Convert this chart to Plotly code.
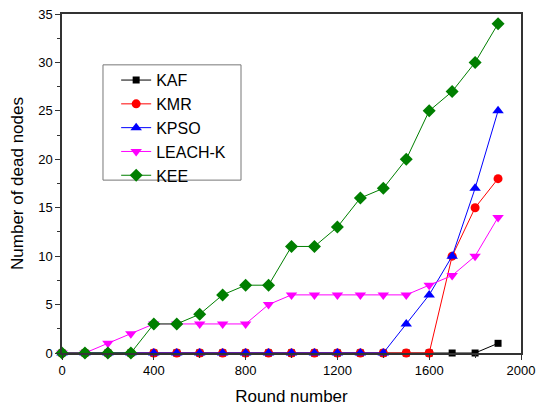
import plotly.graph_objects as go

rounds = [0, 100, 200, 300, 400, 500, 600, 700, 800, 900,
          1000, 1100, 1200, 1300, 1400, 1500, 1600, 1700, 1800, 1900]

kaf = [0, 0, 0, 0, 0, 0, 0, 0, 0, 0, 0, 0, 0, 0, 0, 0, 0, 0, 0, 1]
kmr = [0, 0, 0, 0, 0, 0, 0, 0, 0, 0, 0, 0, 0, 0, 0, 0, 0, 10, 15, 18]
kpso = [0, 0, 0, 0, 0, 0, 0, 0, 0, 0, 0, 0, 0, 0, 0, 3, 6, 10, 17, 25]
leach_k = [0, 0, 1, 2, 3, 3, 3, 3, 3, 5, 6, 6, 6, 6, 6, 6, 7, 8, 10, 14]
kee = [0, 0, 0, 0, 3, 3, 4, 6, 7, 7, 11, 11, 13, 16, 17, 20, 25, 27, 30, 34]

series = [
    ("KAF", kaf, "#000000", "square", 7),
    ("KMR", kmr, "#ff0000", "circle", 9),
    ("KPSO", kpso, "#0000ff", "triangle-up", 10),
    ("LEACH-K", leach_k, "#ff00ff", "triangle-down", 10),
    ("KEE", kee, "#007f00", "diamond", 10),
]

FONT = "Liberation Sans, Arial, sans-serif"

fig = go.Figure()
for name, vals, color, symbol, size in series:
    fig.add_trace(go.Scatter(
        x=rounds, y=vals, name=name, mode="lines+markers",
        line=dict(color=color, width=1),
        marker=dict(symbol=symbol, size=size, color=color, line=dict(width=0)),
        cliponaxis=False,
    ))

axis_common = dict(
    showline=True, linecolor="#333333", linewidth=1.5, mirror=True,
    ticks="outside", ticklen=5, tickwidth=1, tickcolor="#333333",
    showgrid=False, zeroline=False, automargin=False,
    tickfont=dict(family=FONT, size=13, color="#000000"),
    title_font=dict(family=FONT, size=17, color="#000000"),
)

fig.update_xaxes(
    range=[0, 2000], tick0=0, dtick=400,
    minor=dict(ticks="outside", ticklen=3, dtick=200, tickcolor="#333333"),
    title_text="Round number", title_standoff=13, **axis_common,
)
fig.update_yaxes(
    range=[0, 35], tick0=0, dtick=5,
    minor=dict(ticks="outside", ticklen=3, dtick=2.5, tickcolor="#333333"),
    title_text="Number of dead nodes", title_standoff=10, **axis_common,
)

# legend frame drawn as a paper-space rectangle
fig.add_shape(
    type="rect", xref="paper", yref="paper",
    x0=0.0893, x1=0.390, y0=0.510, y1=0.850,
    line=dict(color="#777777", width=1), fillcolor="white", layer="above",
)

fig.update_layout(
    width=536, height=410,
    margin=dict(l=62, r=15, t=14, b=57),
    plot_bgcolor="white", paper_bgcolor="white",
    font=dict(family=FONT, color="#000000"),
    legend=dict(
        x=0.118, y=0.855, xanchor="left", yanchor="top",
        borderwidth=0, bgcolor="rgba(0,0,0,0)",
        font=dict(size=16), tracegroupgap=0, itemsizing="trace",
    ),
    showlegend=True,
)

fig.write_html("out.html")
